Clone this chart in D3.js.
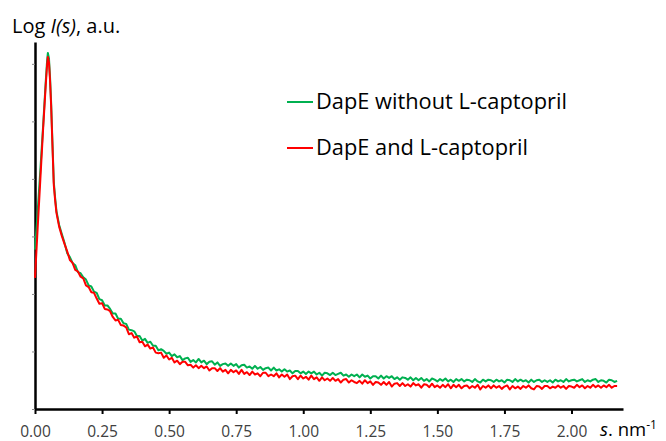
<!DOCTYPE html>
<html lang="en">
<head>
  <meta charset="UTF-8">
  <title>Log I(s) – DapE with and without L-captopril</title>
  <script src="https://cdn.jsdelivr.net/npm/d3@7"></script>
  <style>
    html, body { margin: 0; padding: 0; background: #fff; }
    svg { display: block; font-family: "Open Sans", Lato, sans-serif; }
  </style>
</head>
<body>
  <script>
    // ------------- Data -------------
    const sValues = [
      0, 0.01, 0.02, 0.03, 0.04, 0.045, 0.048, 0.052, 0.056, 0.06, 0.065, 0.07, 0.075, 0.08, 0.09, 0.10,
      0.11, 0.12, 0.13, 0.14, 0.15, 0.16, 0.17, 0.18, 0.19, 0.20,
      0.21, 0.22, 0.23, 0.24, 0.25, 0.26, 0.27, 0.28, 0.29, 0.30,
      0.31, 0.32, 0.33, 0.34, 0.35, 0.36, 0.37, 0.38, 0.39, 0.40,
      0.41, 0.42, 0.43, 0.44, 0.45, 0.46, 0.47, 0.48, 0.49, 0.50,
      0.51, 0.52, 0.53, 0.54, 0.55, 0.56, 0.57, 0.58, 0.59, 0.60,
      0.61, 0.62, 0.63, 0.64, 0.65, 0.66, 0.67, 0.68, 0.69, 0.70,
      0.71, 0.72, 0.73, 0.74, 0.75, 0.76, 0.77, 0.78, 0.79, 0.80,
      0.81, 0.82, 0.83, 0.84, 0.85, 0.86, 0.87, 0.88, 0.89, 0.90,
      0.91, 0.92, 0.93, 0.94, 0.95, 0.96, 0.97, 0.98, 0.99, 1.00,
      1.01, 1.02, 1.03, 1.04, 1.05, 1.06, 1.07, 1.08, 1.09, 1.10,
      1.11, 1.12, 1.13, 1.14, 1.15, 1.16, 1.17, 1.18, 1.19, 1.20,
      1.21, 1.22, 1.23, 1.24, 1.25, 1.26, 1.27, 1.28, 1.29, 1.30,
      1.31, 1.32, 1.33, 1.34, 1.35, 1.36, 1.37, 1.38, 1.39, 1.40,
      1.41, 1.42, 1.43, 1.44, 1.45, 1.46, 1.47, 1.48, 1.49, 1.50,
      1.51, 1.52, 1.53, 1.54, 1.55, 1.56, 1.57, 1.58, 1.59, 1.60,
      1.61, 1.62, 1.63, 1.64, 1.65, 1.66, 1.67, 1.68, 1.69, 1.70,
      1.71, 1.72, 1.73, 1.74, 1.75, 1.76, 1.77, 1.78, 1.79, 1.80,
      1.81, 1.82, 1.83, 1.84, 1.85, 1.86, 1.87, 1.88, 1.89, 1.90,
      1.91, 1.92, 1.93, 1.94, 1.95, 1.96, 1.97, 1.98, 1.99, 2.00,
      2.01, 2.02, 2.03, 2.04, 2.05, 2.06, 2.07, 2.08, 2.09, 2.10,
      2.11, 2.12, 2.13, 2.14, 2.15, 2.16, 2.17
    ];

    // log intensity, arbitrary units
    const withoutCaptopril = [
      2.77, 3.43, 4.16, 4.90, 5.69, 6.05, 6.19, 6.10, 5.77, 5.34, 4.64, 3.95, 3.67, 3.44, 3.20, 3.04,
      2.89, 2.71, 2.64, 2.54, 2.50, 2.38, 2.36, 2.29, 2.25, 2.15,
      2.13, 2.04, 2.02, 1.91, 1.89, 1.80, 1.80, 1.74, 1.66, 1.66,
      1.57, 1.57, 1.49, 1.48, 1.38, 1.37, 1.35, 1.27, 1.27, 1.19,
      1.22, 1.15, 1.17, 1.10, 1.10, 1.02, 1.04, 1.01, 0.96, 0.98,
      0.92, 0.95, 0.90, 0.92, 0.85, 0.88, 0.89, 0.82, 0.85, 0.81,
      0.87, 0.81, 0.84, 0.78, 0.82, 0.83, 0.77, 0.81, 0.75, 0.78,
      0.79, 0.75, 0.79, 0.75, 0.78, 0.72, 0.76, 0.77, 0.72, 0.74,
      0.70, 0.75, 0.70, 0.73, 0.68, 0.71, 0.72, 0.67, 0.72, 0.67,
      0.69, 0.65, 0.69, 0.65, 0.67, 0.62, 0.66, 0.66, 0.62, 0.65,
      0.61, 0.65, 0.62, 0.65, 0.60, 0.63, 0.58, 0.63, 0.62, 0.59,
      0.63, 0.59, 0.61, 0.63, 0.58, 0.60, 0.56, 0.60, 0.57, 0.60,
      0.55, 0.60, 0.56, 0.58, 0.53, 0.57, 0.57, 0.53, 0.58, 0.53,
      0.57, 0.54, 0.57, 0.52, 0.55, 0.51, 0.55, 0.54, 0.51, 0.55,
      0.50, 0.54, 0.50, 0.54, 0.49, 0.52, 0.48, 0.53, 0.51, 0.48,
      0.52, 0.49, 0.53, 0.48, 0.51, 0.47, 0.52, 0.49, 0.52, 0.48,
      0.51, 0.50, 0.47, 0.52, 0.48, 0.46, 0.51, 0.48, 0.51, 0.50,
      0.47, 0.51, 0.48, 0.50, 0.46, 0.51, 0.50, 0.47, 0.52, 0.48,
      0.51, 0.48, 0.50, 0.46, 0.51, 0.47, 0.50, 0.51, 0.47, 0.50,
      0.47, 0.50, 0.46, 0.51, 0.48, 0.50, 0.47, 0.52, 0.48, 0.50,
      0.51, 0.48, 0.50, 0.52, 0.47, 0.50, 0.48, 0.51, 0.52, 0.47,
      0.50, 0.49, 0.46, 0.51, 0.50, 0.47, 0.49
    ];

    const withCaptopril = [
      2.28, 3.15, 4.00, 4.85, 5.63, 5.98, 6.12, 6.03, 5.72, 5.29, 4.59, 3.90, 3.63, 3.41, 3.17, 3.01,
      2.87, 2.74, 2.59, 2.54, 2.42, 2.39, 2.30, 2.27, 2.15, 2.12,
      2.03, 2.02, 1.92, 1.83, 1.84, 1.74, 1.73, 1.70, 1.60, 1.54,
      1.55, 1.46, 1.45, 1.42, 1.30, 1.32, 1.24, 1.26, 1.16, 1.17,
      1.09, 1.12, 1.05, 1.07, 0.98, 0.97, 0.98, 0.89, 0.93, 0.86,
      0.89, 0.81, 0.84, 0.78, 0.82, 0.82, 0.76, 0.77, 0.72, 0.76,
      0.71, 0.75, 0.71, 0.74, 0.67, 0.71, 0.71, 0.66, 0.71, 0.65,
      0.68, 0.62, 0.68, 0.64, 0.67, 0.61, 0.68, 0.61, 0.64, 0.59,
      0.65, 0.60, 0.62, 0.57, 0.63, 0.63, 0.57, 0.60, 0.57, 0.62,
      0.55, 0.60, 0.56, 0.60, 0.52, 0.57, 0.58, 0.52, 0.58, 0.53,
      0.56, 0.51, 0.58, 0.52, 0.55, 0.49, 0.55, 0.50, 0.53, 0.49,
      0.54, 0.49, 0.52, 0.46, 0.51, 0.52, 0.46, 0.50, 0.47, 0.45,
      0.49, 0.44, 0.50, 0.45, 0.48, 0.42, 0.47, 0.46, 0.42, 0.47,
      0.42, 0.47, 0.39, 0.44, 0.45, 0.40, 0.45, 0.40, 0.43, 0.39,
      0.45, 0.41, 0.43, 0.37, 0.43, 0.42, 0.38, 0.44, 0.38, 0.41,
      0.37, 0.42, 0.38, 0.43, 0.36, 0.42, 0.38, 0.42, 0.36, 0.40,
      0.41, 0.36, 0.40, 0.37, 0.42, 0.34, 0.40, 0.37, 0.41, 0.36,
      0.41, 0.37, 0.40, 0.35, 0.39, 0.41, 0.34, 0.40, 0.36, 0.39,
      0.35, 0.40, 0.37, 0.41, 0.36, 0.34, 0.40, 0.39, 0.35, 0.40,
      0.40, 0.36, 0.39, 0.37, 0.41, 0.37, 0.40, 0.35, 0.40, 0.39,
      0.37, 0.42, 0.38, 0.41, 0.36, 0.40, 0.37, 0.42, 0.38, 0.41,
      0.37, 0.41, 0.38, 0.42, 0.37, 0.40, 0.40
    ];

    const seriesNames  = ["DapE without L-captopril", "DapE and L-captopril"];
    const seriesColors = ["#00b050", "#ff0000"];
    const xTicks = [0, 0.25, 0.5, 0.75, 1.0, 1.25, 1.5, 1.75, 2.0];
    const yTicks = [0, 1, 2, 3, 4, 5, 6];

    // ------------- SVG & scales -------------
    const width = 666, height = 441;
    const svg = d3.select("body").append("svg")
      .attr("width", width)
      .attr("height", height);

    const x = d3.scaleLinear().domain([0, 2.192]).range([35, 623]);
    const y = d3.scaleLinear().domain([0, 6.38]).range([409, 42]);

    // ------------- Axes -------------
    const xAxis = svg.append("g")
      .attr("transform", `translate(0,${y(0)})`)
      .call(d3.axisBottom(x)
        .tickValues(xTicks)
        .tickFormat(d3.format(".2f"))
        .tickSizeInner(5)
        .tickSizeOuter(0)
        .tickPadding(12));
    xAxis.select(".domain").attr("stroke", "#000").attr("stroke-width", 2.5);
    xAxis.selectAll(".tick line").attr("stroke", "#000").attr("stroke-width", 2);
    xAxis.selectAll(".tick text")
      .attr("fill", "#404040")
      .style("font-size", "15.5px")
      .style("font-family", "'Open Sans', sans-serif");

    const yAxis = svg.append("g")
      .attr("transform", `translate(${x(0)},0)`)
      .call(d3.axisLeft(y)
        .tickValues(yTicks)
        .tickFormat("")
        .tickSizeInner(3)
        .tickSizeOuter(0));
    yAxis.select(".domain").attr("stroke", "#000").attr("stroke-width", 2.5);
    yAxis.selectAll(".tick line").attr("stroke", "#888").attr("stroke-width", 1);

    // ------------- Curves -------------
    const series = [withoutCaptopril, withCaptopril];
    const line = d3.line()
      .x(d => x(d[0]))
      .y(d => y(d[1]));

    series.forEach((vals, i) => {
      const pts = sValues.map((s, j) => [s, vals[j]]).filter(p => p[1] != null);
      svg.append("path")
        .datum(pts)
        .attr("fill", "none")
        .attr("stroke", seriesColors[i])
        .attr("stroke-width", 2)
        .attr("stroke-linejoin", "round")
        .attr("d", line);
    });

    // ------------- Legend -------------
    const legend = svg.append("g").attr("transform", "translate(287,102)");
    seriesNames.forEach((name, i) => {
      const g = legend.append("g").attr("transform", `translate(0,${i * 46})`);
      g.append("line")
        .attr("x1", 0).attr("x2", 26)
        .attr("stroke", seriesColors[i])
        .attr("stroke-width", 2);
      g.append("text")
        .attr("x", 29)
        .attr("y", 7)
        .attr("fill", "#000")
        .style("font-size", "21.8px")
        .text(name);
    });

    // ------------- Axis titles -------------
    const title = svg.append("text")
      .attr("x", 12)
      .attr("y", 33)
      .attr("fill", "#000")
      .style("font-size", "20px");
    title.append("tspan").text("Log ");
    title.append("tspan").style("font-style", "italic").text("I(s)");
    title.append("tspan").text(", a.u.");

    const xTitle = svg.append("text")
      .attr("x", 600)
      .attr("y", 436)
      .attr("fill", "#000")
      .style("font-size", "18.5px");
    xTitle.append("tspan").style("font-style", "italic").text("s");
    xTitle.append("tspan").text(". nm");
    xTitle.append("tspan")
      .attr("dy", -7)
      .style("font-size", "12px")
      .text("-1");
  </script>
</body>
</html>
